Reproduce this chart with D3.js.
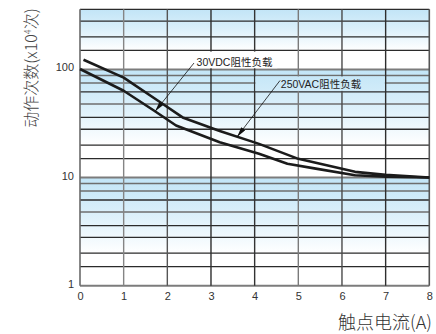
<!DOCTYPE html>
<html>
<head>
<meta charset="utf-8">
<script src="https://cdn.jsdelivr.net/npm/d3@7"></script>
<style>
  html, body { margin: 0; padding: 0; background: #fff; }
  svg { display: block; }
</style>
</head>
<body>
<svg id="chart" width="436" height="334"></svg>
<script>
// Axis ticks
const currentTicks = [0, 1, 2, 3, 4, 5, 6, 7, 8];      // contact current (A)
const lifeTicks = [1, 10, 100];                          // operations (x10^4)
const gridFactors = [1, 1.5, 2, 2.8, 3.6, 4.8, 6.2, 7.5, 8.8]; // grid lines inside each decade
const lifeMax = 360;

// Life curves
const ac250Current = [0.08, 1, 1.83, 2.35, 3.2, 4.1, 5, 6.3, 7, 8];
const ac250Life    = [123, 84, 50, 36, 27, 20.5, 14.9, 11.3, 10.6, 10];
const dc30Current  = [0, 1, 1.7, 2.2, 3.2, 4.1, 4.75, 5.4, 6.3, 7, 8];
const dc30Life     = [101, 63.5, 41.5, 30.3, 21.2, 16.6, 13.4, 12.1, 10.5, 10.2, 10];

// Curve labels and the current at which each leader points to its curve
const seriesNames = ["250VAC阻性负载", "30VDC阻性负载"];
const leaderCurrent = [3.6, 1.72];

// Shaded bands (upper value -> value where the shade has faded to white)
const shadeBands = [[360, 150], [100, 20], [10, 2]];

const svg = d3.select("#chart");
const x = d3.scaleLinear().domain([0, 8]).range([80, 429.3]);
const y = d3.scaleLog().domain([1, lifeMax]).range([285.7, 9.3]);

const defs = svg.append("defs");

// Blue-to-white shading per decade
shadeBands.forEach((b, i) => {
  const g = defs.append("linearGradient")
    .attr("id", "shade" + i)
    .attr("gradientUnits", "userSpaceOnUse")
    .attr("x1", 0).attr("x2", 0)
    .attr("y1", y(b[0])).attr("y2", y(b[1]));
  g.append("stop").attr("offset", 0).attr("stop-color", "#c2e5f7");
  g.append("stop").attr("offset", 0.45).attr("stop-color", "#d9effa");
  g.append("stop").attr("offset", 1).attr("stop-color", "#ffffff");
  svg.append("rect")
    .attr("x", x(0)).attr("width", x(8) - x(0))
    .attr("y", y(b[0])).attr("height", y(b[1]) - y(b[0]))
    .attr("fill", "url(#shade" + i + ")");
});

// Horizontal grid
const hLines = [];
[1, 10, 100].forEach(d => gridFactors.forEach(f => {
  const v = +(d * f).toFixed(3);
  if (v <= lifeMax) hLines.push({ v, f });
}));
const softFactor = new Set([1, 4.8, 7.5, 8.8]);
svg.append("g").selectAll("line").data(hLines).join("line")
  .attr("x1", x(0)).attr("x2", x(8))
  .attr("y1", d => y(d.v)).attr("y2", d => y(d.v))
  .attr("stroke", d => d.f === 1 ? "#7c7c7c" : (softFactor.has(d.f) ? "#6e6e6e" : "#2b2b2b"))
  .attr("stroke-width", d => d.f === 1 ? 2 : (softFactor.has(d.f) ? 1.5 : 1.3));

// Vertical grid
const vTone = { 0: "#6a6a6a", 1: "#858585", 2: "#555", 3: "#2e2e2e", 4: "#333", 5: "#7a7a7a", 6: "#4a4a4a", 7: "#2e2e2e", 8: "#555" };
svg.append("g").selectAll("line").data(currentTicks).join("line")
  .attr("x1", d => x(d)).attr("x2", d => x(d))
  .attr("y1", y(lifeMax)).attr("y2", y(1))
  .attr("stroke", d => vTone[d])
  .attr("stroke-width", d => (d === 0 || d === 8) ? 1.6 : 1.4);

// Label backgrounds
svg.append("rect")
  .attr("x", x(4) + 0.8).attr("width", x(7) - x(4) - 1.6)
  .attr("y", y(88) + 1).attr("height", y(62) - y(88) - 2)
  .attr("fill", "url(#shade1)");
svg.append("rect")
  .attr("x", x(2.62)).attr("width", x(4.52) - x(2.62))
  .attr("y", y(150) + 1.2).attr("height", y(100) - y(150) - 2.4)
  .attr("fill", "#fff");

// Curves
const line = d3.line().x(d => x(d[0])).y(d => y(d[1]));
const series = [
  d3.zip(ac250Current, ac250Life),
  d3.zip(dc30Current, dc30Life)
];
svg.append("g").selectAll("path").data(series).join("path")
  .attr("d", line)
  .attr("fill", "none")
  .attr("stroke", "#1b1b1b")
  .attr("stroke-width", 2.6)
  .attr("stroke-linejoin", "round");

// Value of a curve at a given current (log interpolation)
function lifeAt(pts, c) {
  for (let i = 1; i < pts.length; i++) {
    if (c <= pts[i][0]) {
      const [c0, v0] = pts[i - 1], [c1, v1] = pts[i];
      const t = (c - c0) / (c1 - c0);
      return Math.pow(10, Math.log10(v0) + t * (Math.log10(v1) - Math.log10(v0)));
    }
  }
  return pts[pts.length - 1][1];
}

// Arrow marker
defs.append("marker")
  .attr("id", "arrow")
  .attr("markerUnits", "userSpaceOnUse")
  .attr("viewBox", "0 0 10 5")
  .attr("refX", 10).attr("refY", 2.5)
  .attr("markerWidth", 10).attr("markerHeight", 5)
  .attr("orient", "auto")
  .append("path").attr("d", "M0,0 L10,2.5 L0,5 Z").attr("fill", "#111");

// Curve labels with leaders
const labelPos = [[4.6, 66.7], [2.67, 107.7]];
const leaderStart = [[280, 80.5], [194, 63]];
labelPos.forEach((p, i) => {
  const c = leaderCurrent[i];
  const tx = x(c), ty = y(lifeAt(series[i], c));
  svg.append("line")
    .attr("x1", leaderStart[i][0]).attr("y1", leaderStart[i][1])
    .attr("x2", tx).attr("y2", ty)
    .attr("stroke", "#111").attr("stroke-width", 0.8)
    .attr("marker-end", "url(#arrow)");
  svg.append("text")
    .attr("x", x(p[0])).attr("y", y(p[1]))
    .attr("font-family", "'Liberation Sans', Arial, 'Noto Sans CJK SC', sans-serif")
    .attr("font-size", 10.5)
    .attr("fill", "#222")
    .text(seriesNames[i]);
});

// Axes labels
const tickFont = "'Liberation Sans', Arial, sans-serif";
const yAxis = svg.append("g")
  .attr("transform", `translate(${x(0) - 6},-2)`)
  .call(d3.axisLeft(y).tickValues(lifeTicks).tickFormat(d3.format("d")).tickSize(0).tickPadding(0));
yAxis.select(".domain").remove();
yAxis.selectAll("text").attr("font-family", tickFont).attr("font-size", 11).attr("fill", "#333");

const xAxis = svg.append("g")
  .attr("transform", `translate(0,${y(1) + 6})`)
  .call(d3.axisBottom(x).tickValues(currentTicks).tickFormat(d3.format("d")).tickSize(0).tickPadding(0));
xAxis.select(".domain").remove();
xAxis.selectAll("text").attr("font-family", tickFont).attr("font-size", 11).attr("fill", "#333");

// Axis titles
svg.append("text")
  .attr("x", 432).attr("y", 328.5)
  .attr("text-anchor", "end")
  .attr("font-family", "'Noto Sans CJK SC', 'Liberation Sans', sans-serif")
  .attr("font-size", 18)
  .attr("font-weight", 300)
  .attr("fill", "#333")
  .text("触点电流(A)");

const yt = svg.append("text")
  .attr("transform", "translate(37,68) rotate(-90)")
  .attr("text-anchor", "middle")
  .attr("font-family", "'Noto Sans CJK SC', 'Liberation Sans', sans-serif")
  .attr("font-size", 16)
  .attr("font-weight", 300)
  .attr("fill", "#444");
yt.append("tspan").text("动作次数(x10");
yt.append("tspan").attr("dy", -6).attr("font-size", 9).text("4");
yt.append("tspan").attr("dy", 6).text("次)");
</script>
</body>
</html>
